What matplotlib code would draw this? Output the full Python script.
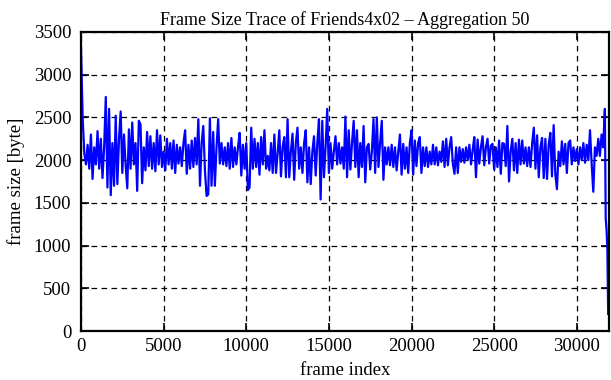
import numpy as np
import matplotlib
matplotlib.use('Agg')
import matplotlib.pyplot as plt

# frame size averaged over 50 frames, read every 100 frames from 0 to 31700
size_bytes = [
    3300, 2500, 2080, 1950, 2180, 1900, 2300, 1780, 2150, 1950,
    2340, 1900, 2250, 1790, 2150, 2740, 1680, 2600, 1590, 2200,
    1700, 2520, 1720, 2250, 2570, 1850, 2300, 1950, 1670, 2360,
    1900, 2440, 1950, 2200, 1640, 2460, 2420, 1730, 2150, 1880,
    2330, 1930, 2280, 1900, 2200, 1870, 2350, 1950, 2290, 1920,
    2100, 1880, 2250, 1950, 2200, 1900, 2230, 1850, 2180, 1960,
    2150, 1930, 2200, 2350, 1840, 2180, 1900, 2230, 1920, 2260,
    1950, 2480, 1700, 2200, 2400, 1880, 1580, 1600, 2490, 1700,
    2330, 1700, 2150, 2480, 1960, 2200, 1950, 2150, 1930, 2200,
    1900, 2260, 1920, 2150, 1950, 2150, 2320, 1820, 2180, 1900,
    2200, 1650, 1680, 2380, 1900, 2250, 1920, 2200, 1830, 2270,
    1950, 2350, 1900, 2050, 1880, 2200, 1850, 2300, 1850, 2080,
    2350, 1810, 2150, 2270, 1800, 2480, 1800, 2100, 2310, 1770,
    2200, 2380, 1900, 2150, 1850, 2200, 2350, 1740, 2150, 1720,
    2100, 2280, 1820, 2200, 2480, 1540, 2460, 1800, 2150, 2600,
    1850, 2200, 1900, 2100, 2280, 1950, 2200, 1960, 2150, 1900,
    2510, 1800, 2350, 1890, 2200, 2460, 1920, 2350, 1800, 2200,
    1920, 2400, 1740, 2150, 2190, 1890, 2100, 2480, 1850, 2500,
    1920, 2200, 2460, 1770, 2150, 1950, 2150, 1940, 2180, 1920,
    2150, 1880, 2100, 2300, 1830, 2190, 1900, 2150, 1850, 2200,
    2350, 1830, 2230, 1930, 2200, 2270, 1850, 2150, 1930, 2150,
    1920, 2100, 1950, 2180, 1950, 2150, 1940, 2100, 1980, 2220,
    1920, 2250, 1940, 2150, 2270, 1960, 1840, 2150, 1850, 2150,
    1980, 2130, 1970, 2150, 2000, 2180, 1950, 2120, 2270, 1800,
    2240, 1960, 2150, 2280, 1940, 2150, 2250, 1960, 2170, 2190,
    1890, 2150, 1920, 2230, 1840, 2200, 2190, 1930, 2400, 1750,
    2100, 2250, 1880, 2200, 1850, 2240, 1950, 2230, 1960, 2150,
    1930, 2150, 1920, 2200, 2380, 1900, 2290, 1800, 2150, 2260,
    1790, 2250, 1780, 2180, 2320, 1810, 2410, 1840, 1660, 2100,
    1930, 2220, 1950, 2190, 1850, 2200, 2230, 1950, 2150, 1990,
    2130, 1950, 2150, 2000, 2200, 1970, 2180, 2000, 2350, 1960,
    1630, 2150, 2050, 2250, 2050, 2300, 2150, 2600,
]
# steep drop in the last few frames
tail_frames = [31750, 31800, 31850, 31900]
tail_bytes = [1320, 1190, 970, 200]

frames = list(np.arange(len(size_bytes)) * 100) + tail_frames
values = size_bytes + tail_bytes

plt.rcParams['font.family'] = ['Liberation Serif', 'DejaVu Serif']
plt.rcParams['font.size'] = 13.5

fig = plt.figure(figsize=(6.11, 3.8), dpi=100)
ax = fig.add_axes([81/611, 1-331/380, 528/611, 299/380])
ax.plot(frames, values, color='#0000ff', lw=1.6)

ax.set_xlim(0, 31950)
ax.set_ylim(0, 3500)
ax.set_xticks(np.arange(0, 30001, 5000))
ax.set_yticks(np.arange(0, 3501, 500))
ax.grid(True, color='black', linestyle=(0, (4.5, 3.5)), lw=0.9)
ax.tick_params(direction='in', length=6, width=1.2, top=True, right=True)
ax.tick_params(axis='y', pad=7)
ax.tick_params(axis='x', pad=5)
for s in ax.spines.values():
    s.set_linewidth(1.6)

ax.set_xlabel('frame index', labelpad=5)
ax.set_ylabel('frame size [byte]', labelpad=6)
ax.set_title('Frame Size Trace of Friends4x02 \u2013 Aggregation 50', fontsize=13, pad=5)

fig.savefig('out.png', dpi=100)
